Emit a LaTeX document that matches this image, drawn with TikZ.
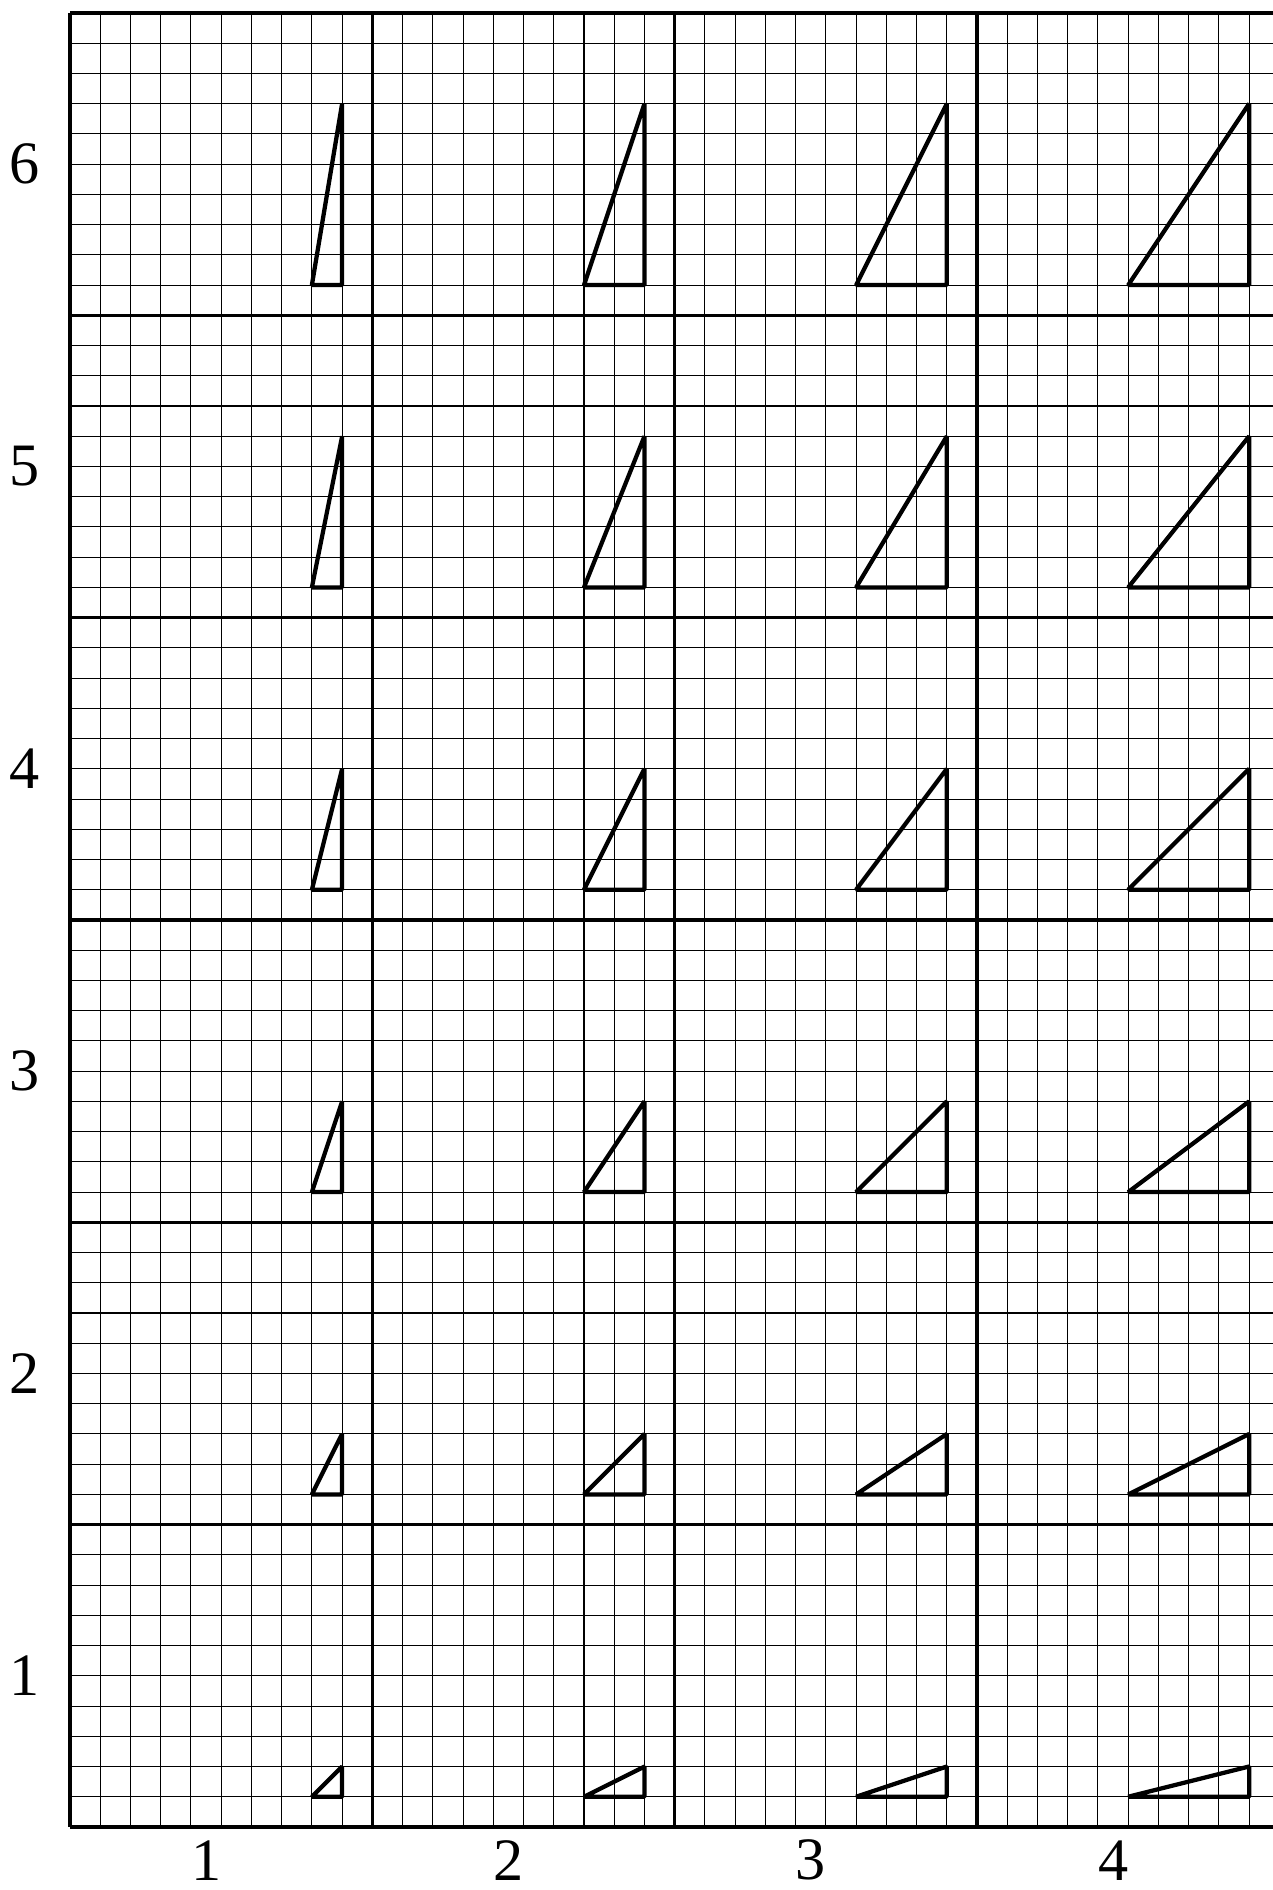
\documentclass[tikz,border=0pt]{standalone}
\usepackage{fontspec}
\setmainfont{Liberation Serif}
\tikzset{
  finegrid/.style={line width=0.3pt},
  blockgrid/.style={line width=0.9pt},
  wedge/.style={line width=1.2pt, line join=bevel},
  axislabel/.style={font=\fontsize{17}{20}\selectfont, inner sep=0pt}
}
\begin{document}
\begin{tikzpicture}[x=0.3cm,y=0.3cm]
    \useasboundingbox (-2.316,-2.084) rectangle (39.76,60.43);

    % Fine grid
    \foreach \x in {0,...,40} {
        \draw[finegrid] (\x,0) -- (\x,60);
    }
    \foreach \y in {0,...,60} {
        \draw[finegrid] (0,\y) -- (40,\y);
    }

    % Block lines
    \foreach \x in {0,10,...,40} {
        \draw[blockgrid] (\x,0) -- (\x,60);
    }
    \foreach \y in {0,10,...,60} {
        \draw[blockgrid] (0,\y) -- (40,\y);
    }

    % Triangles
    \foreach \i in {1,...,4} {
        \foreach \j in {1,...,6} {
            \draw[wedge] (10*\i-1-\i,10*\j-9) -- (10*\i-1,10*\j-9)
                -- (10*\i-1,10*\j-9+\j) -- cycle;
        }
    }

    % Labels
    \foreach \i in {1,...,4} {
        \node[axislabel] (col\i) at (10*\i-5.5,-1.1) {\i};
    }
    \foreach \j in {1,...,6} {
        \node[axislabel] (row\j) at (-1.5,10*\j-5) {\j};
    }
\end{tikzpicture}
\end{document}
